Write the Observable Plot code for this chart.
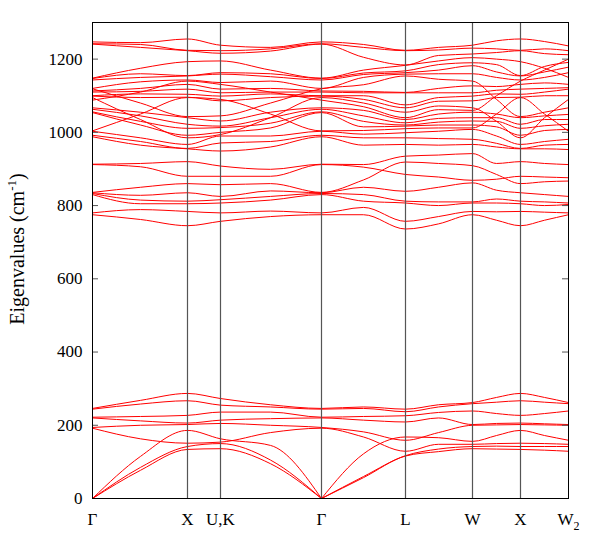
<!DOCTYPE html>
<html><head><meta charset="utf-8">
<script src="https://cdn.jsdelivr.net/npm/d3@7"></script>
<script src="https://cdn.jsdelivr.net/npm/@observablehq/plot@0.6"></script>
<style>body{margin:0;background:#fff}</style></head>
<body><div id="chart"></div>
<script>
// path coordinate of each sample column (Γ X U,K Γ L W X W2 and midpoints)
const kpos = [0, 48, 95, 128, 178, 229, 271, 313, 346, 380, 404, 428, 452, 476];
const nodeK = [0, 95, 128, 229, 313, 380, 428, 476];
const nodeLabels = ["Γ", "X", "U,K", "Γ", "L", "W", "X", "W2"];
const yTicks = [0, 200, 400, 600, 800, 1000, 1200];

// low-frequency bands (band order: 3 acoustic, 6 optical)
const lowG  = [0, 0, 0, 192, 194, 220, 222, 244, 246];
const lowGX = [77, 85, 115, 163, 200, 212, 224, 258, 268];
const lowX  = [134, 142, 186, 151, 202, 206, 227, 267, 287];
const lowUK = [136, 150, 163, 154, 205, 214, 236, 255, 273];
const lowKG = [95, 105, 145, 180, 200, 218, 236, 250, 256];
const lowGL = [57, 60, 122, 168, 182, 214, 224, 246, 250];
const lowL  = [116, 117, 168, 129, 159, 209, 226, 237, 244];
const lowLW = [128, 135, 166, 148, 180, 220, 235, 250, 256];
const lowW  = [136, 142, 156, 148, 200, 202, 239, 259, 262];
const lowWX = [135, 143, 172, 150, 201, 205, 232, 263, 276];
const lowXW = [132, 142, 172, 150, 201, 204, 232, 263, 276];
const lowW2 = [129, 142, 159, 148, 200, 202, 239, 259, 262];

// high-frequency bands (same band order in every column)
const highG  = [775, 780, 830, 833, 835, 836, 912, 913, 988, 992, 1003, 1004, 1054, 1056, 1063, 1067, 1088, 1095, 1099, 1100, 1110, 1113, 1119, 1120, 1143, 1147, 1148, 1241, 1242, 1247];
const highGX = [762, 789, 805, 815, 828, 850, 906, 915, 965, 975, 985, 1050, 1020, 1030, 1045, 1055, 1110, 1035, 1095, 1105, 1112, 1120, 1080, 1138, 1150, 1160, 1175, 1232, 1240, 1245];
const highX  = [745, 784, 805, 812, 835, 860, 880, 920, 955, 956, 967, 1095, 992, 1011, 1022, 1040, 1140, 985, 1096, 1104, 1118, 1131, 1043, 1143, 1154, 1155, 1193, 1223, 1224, 1255];
const highUK = [757, 780, 807, 816, 825, 857, 880, 908, 949, 971, 990, 1090, 1000, 1013, 1017, 1031, 1131, 994, 1086, 1099, 1108, 1118, 1045, 1136, 1159, 1163, 1195, 1216, 1223, 1238];
const highKG = [770, 785, 815, 825, 840, 860, 880, 899, 960, 975, 990, 1050, 1012, 1025, 1040, 1055, 1110, 1040, 1095, 1105, 1110, 1120, 1080, 1140, 1152, 1160, 1170, 1222, 1228, 1232];
const highGL = [775, 795, 812, 830, 850, 870, 905, 912, 965, 985, 995, 1005, 1015, 1030, 1045, 1060, 1070, 1080, 1090, 1100, 1108, 1112, 1130, 1150, 1158, 1162, 1170, 1205, 1232, 1240];
const highL  = [736, 757, 807, 812, 839, 919, 885, 935, 967, 985, 999, 1010, 1017, 1020, 1026, 1035, 1040, 1055, 1067, 1075, 1108, 1109, 1154, 1159, 1163, 1168, 1183, 1184, 1223, 1224];
const highLW = [750, 770, 800, 810, 850, 915, 878, 938, 965, 983, 1003, 1012, 1020, 1028, 1038, 1050, 1062, 1072, 1085, 1095, 1108, 1120, 1145, 1160, 1170, 1185, 1195, 1210, 1225, 1232];
const highW  = [775, 784, 807, 810, 862, 909, 869, 942, 967, 981, 1008, 1012, 1020, 1031, 1040, 1055, 1060, 1067, 1086, 1099, 1108, 1127, 1140, 1160, 1182, 1190, 1204, 1214, 1230, 1238];
const highWX = [760, 783, 807, 818, 842, 885, 872, 915, 960, 970, 990, 1050, 1015, 1030, 1040, 1050, 1100, 1030, 1095, 1105, 1115, 1125, 1090, 1150, 1165, 1185, 1200, 1218, 1228, 1250];
const highXW = [760, 782, 800, 810, 830, 865, 878, 915, 955, 965, 975, 1050, 1005, 1018, 1035, 1045, 1170, 1040, 1100, 1110, 1120, 1135, 1055, 1150, 1165, 1180, 1175, 1215, 1228, 1248];
const highW2 = [775, 780, 803, 807, 825, 867, 876, 912, 953, 967, 981, 1003, 1008, 1022, 1035, 1049, 1200, 1090, 1100, 1118, 1122, 1131, 1067, 1163, 1178, 1191, 1150, 1212, 1223, 1236];

const columns = [
  lowG.concat(highG), lowGX.concat(highGX), lowX.concat(highX), lowUK.concat(highUK),
  lowKG.concat(highKG), lowG.concat(highG), lowGL.concat(highGL), lowL.concat(highL),
  lowLW.concat(highLW), lowW.concat(highW), lowWX.concat(highWX), lowX.concat(highX),
  lowXW.concat(highXW), lowW2.concat(highW2)
];

const points = [];
const nBands = columns[0].length;
for (let b = 0; b < nBands; b++) {
  const acoustic = b < 3;
  columns.forEach((col, c) => {
    if (acoustic && c === 5) {
      points.push({id: b + "-0", k: kpos[c], v: col[b]});
      points.push({id: b + "-1", k: kpos[c], v: col[b]});
    } else {
      const piece = acoustic && c > 5 ? 1 : 0;
      points.push({id: b + "-" + piece, k: kpos[c], v: col[b]});
    }
  });
}

const chart = Plot.plot({
  width: 598, height: 538,
  marginLeft: 92, marginRight: 30, marginTop: 22, marginBottom: 40,
  x: {domain: [0, 476]},
  y: {domain: [0, 1300]},
  style: {fontFamily: "Liberation Serif", fontSize: "17px", background: "white", color: "black"},
  marks: [
    Plot.line(points, {x: "k", y: "v", z: "id", stroke: "#ff0000", strokeWidth: 1, curve: "monotone-x"}),
    Plot.ruleX(nodeK.slice(1, -1), {stroke: "#555", strokeWidth: 1.2}),
    Plot.ruleY(yTicks.slice(1), {x1: 0, x2: 6, stroke: "#555"}),
    Plot.ruleY(yTicks.slice(1), {x1: 470, x2: 476, stroke: "#555"}),
    Plot.frame({stroke: "black"}),
    Plot.axisY({ticks: yTicks, tickSize: 0, tickPadding: 10, label: null, tickFormat: (d) => String(d)}),
    Plot.axisX({ticks: nodeK, tickSize: 0, tickPadding: 14, label: null,
      tickFormat: (d) => nodeLabels[nodeK.indexOf(d)]})
  ]
});
document.getElementById("chart").appendChild(chart);

const svg = d3.select(chart);
svg.selectAll("text").each(function () {
  if (this.textContent === "W2") {
    this.textContent = "W";
    d3.select(this).append("tspan").attr("dy", 5).attr("font-size", 12).text("2");
  }
});
const lab = svg.append("text")
  .attr("transform", "translate(24,249) rotate(-90)")
  .attr("text-anchor", "middle")
  .style("font-family", "Liberation Serif")
  .style("font-size", "20px")
  .attr("fill", "black");
lab.append("tspan").text("Eigenvalues (cm");
lab.append("tspan").attr("dy", -8).style("font-size", "13px").text("-1");
lab.append("tspan").attr("dy", 8).text(")");
</script></body></html>
